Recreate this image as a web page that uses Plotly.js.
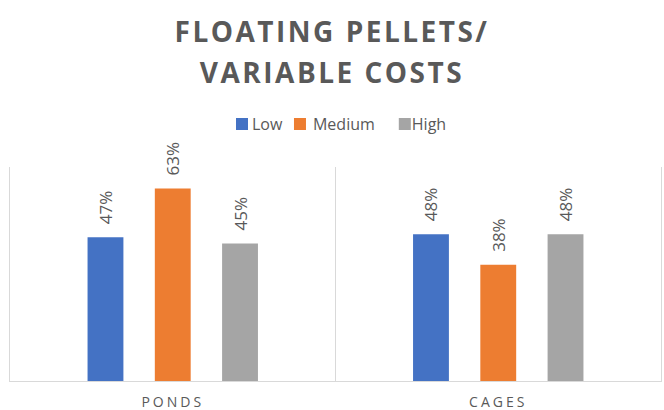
<!DOCTYPE html>
<html>
<head>
<meta charset="utf-8">
<script src="https://cdn.plot.ly/plotly-3.0.1.min.js"></script>
<style>html,body{margin:0;padding:0;background:#fff;}#chart{width:664px;height:410px;}</style>
</head>
<body>
<div id="chart"></div>
<script>
const categories = ["PONDS", "CAGES"];
const seriesNames = ["Low", "Medium", "High"];
const lowValues = [0.47, 0.48];
const mediumValues = [0.63, 0.38];
const highValues = [0.45, 0.48];
const seriesColors = ["#4472C4", "#ED7D31", "#A5A5A5"];
const allValues = [lowValues, mediumValues, highValues];

const textColor = "#595959";
const traces = allValues.map((vals, i) => ({
  type: "bar",
  name: seriesNames[i],
  x: categories,
  y: vals,
  marker: { color: seriesColors[i] },
  texttemplate: "%{y:.0%}",
  textposition: "outside",
  textangle: -90,
  constraintext: "none",
  cliponaxis: false,
  textfont: { family: "Open Sans", size: 17, color: textColor },
  hoverinfo: "skip"
}));

const layout = {
  width: 664,
  height: 410,
  margin: { l: 10, r: 3, t: 167, b: 29 },
  paper_bgcolor: "#fff",
  plot_bgcolor: "#fff",
  font: { family: "Open Sans", color: textColor },
  title: {
    text: "<b>FLOATING PELLETS/<br>VARIABLE COSTS</b>",
    font: { family: "Open Sans", size: 28, color: textColor },
    x: 0.5, xanchor: "center",
    y: 0.873, yanchor: "middle", yref: "container"
  },
  showlegend: true,
  legend: {
    orientation: "h",
    x: 0.5, xanchor: "center",
    y: 1.2, yanchor: "middle",
    font: { family: "Open Sans", size: 16, color: textColor },
    itemwidth: 30,
    traceorder: "normal"
  },
  barmode: "group",
  bargap: 0.38,
  bargroupgap: 0.467,
  xaxis: {
    type: "category",
    tickson: "boundaries",
    showgrid: true,
    gridcolor: "#D9D9D9",
    gridwidth: 1,
    showline: true,
    linecolor: "#D9D9D9",
    linewidth: 1,
    ticks: "",
    ticklabelstandoff: 8,
    tickfont: { family: "Open Sans", size: 14, color: textColor },
    zeroline: false
  },
  yaxis: {
    range: [0, 0.7],
    showgrid: false,
    showticklabels: false,
    zeroline: false,
    showline: true,
    mirror: true,
    linecolor: "#D9D9D9",
    linewidth: 1,
    ticks: ""
  }
};

function addTransform(el, extra, prepend) {
  const cur = el.getAttribute("transform") || "";
  if (el.__applied === cur) return;
  const next = prepend ? extra + " " + cur : cur + " " + extra;
  el.setAttribute("transform", next);
  el.__applied = next;
}

function fixUp() {
  document.querySelectorAll(".xtick text").forEach(t => t.setAttribute("letter-spacing", "3px"));
  document.querySelectorAll(".gtitle").forEach(t => {
    t.setAttribute("letter-spacing", "2.5px");
    const lines = t.querySelectorAll("tspan.line");
    if (lines.length >= 2) {
      lines[0].setAttribute("dy", "0");
      lines[0].setAttribute("y", "42");
      lines[1].setAttribute("dy", "0");
      lines[1].setAttribute("y", "83");
    }
  });
  document.querySelectorAll(".bartext").forEach(t => addTransform(t, "translate(0,-10)", true));
  const items = document.querySelectorAll(".legend .traces");
  const shifts = [18, 0, -2];
  const textX = [30, 33, 27];
  items.forEach((g, i) => {
    addTransform(g, "translate(" + (shifts[i] || 0) + ",0)", false);
    const txt = g.querySelector("text.legendtext");
    if (txt) txt.setAttribute("x", String(textX[i] || 30));
  });
}

const gd = document.getElementById("chart");
Plotly.newPlot(gd, traces, layout, { staticPlot: true }).then(() => {
  fixUp();
  gd.on && gd.on("plotly_afterplot", fixUp);
  setTimeout(fixUp, 30);
  setTimeout(fixUp, 200);
});
</script>
</body>
</html>
